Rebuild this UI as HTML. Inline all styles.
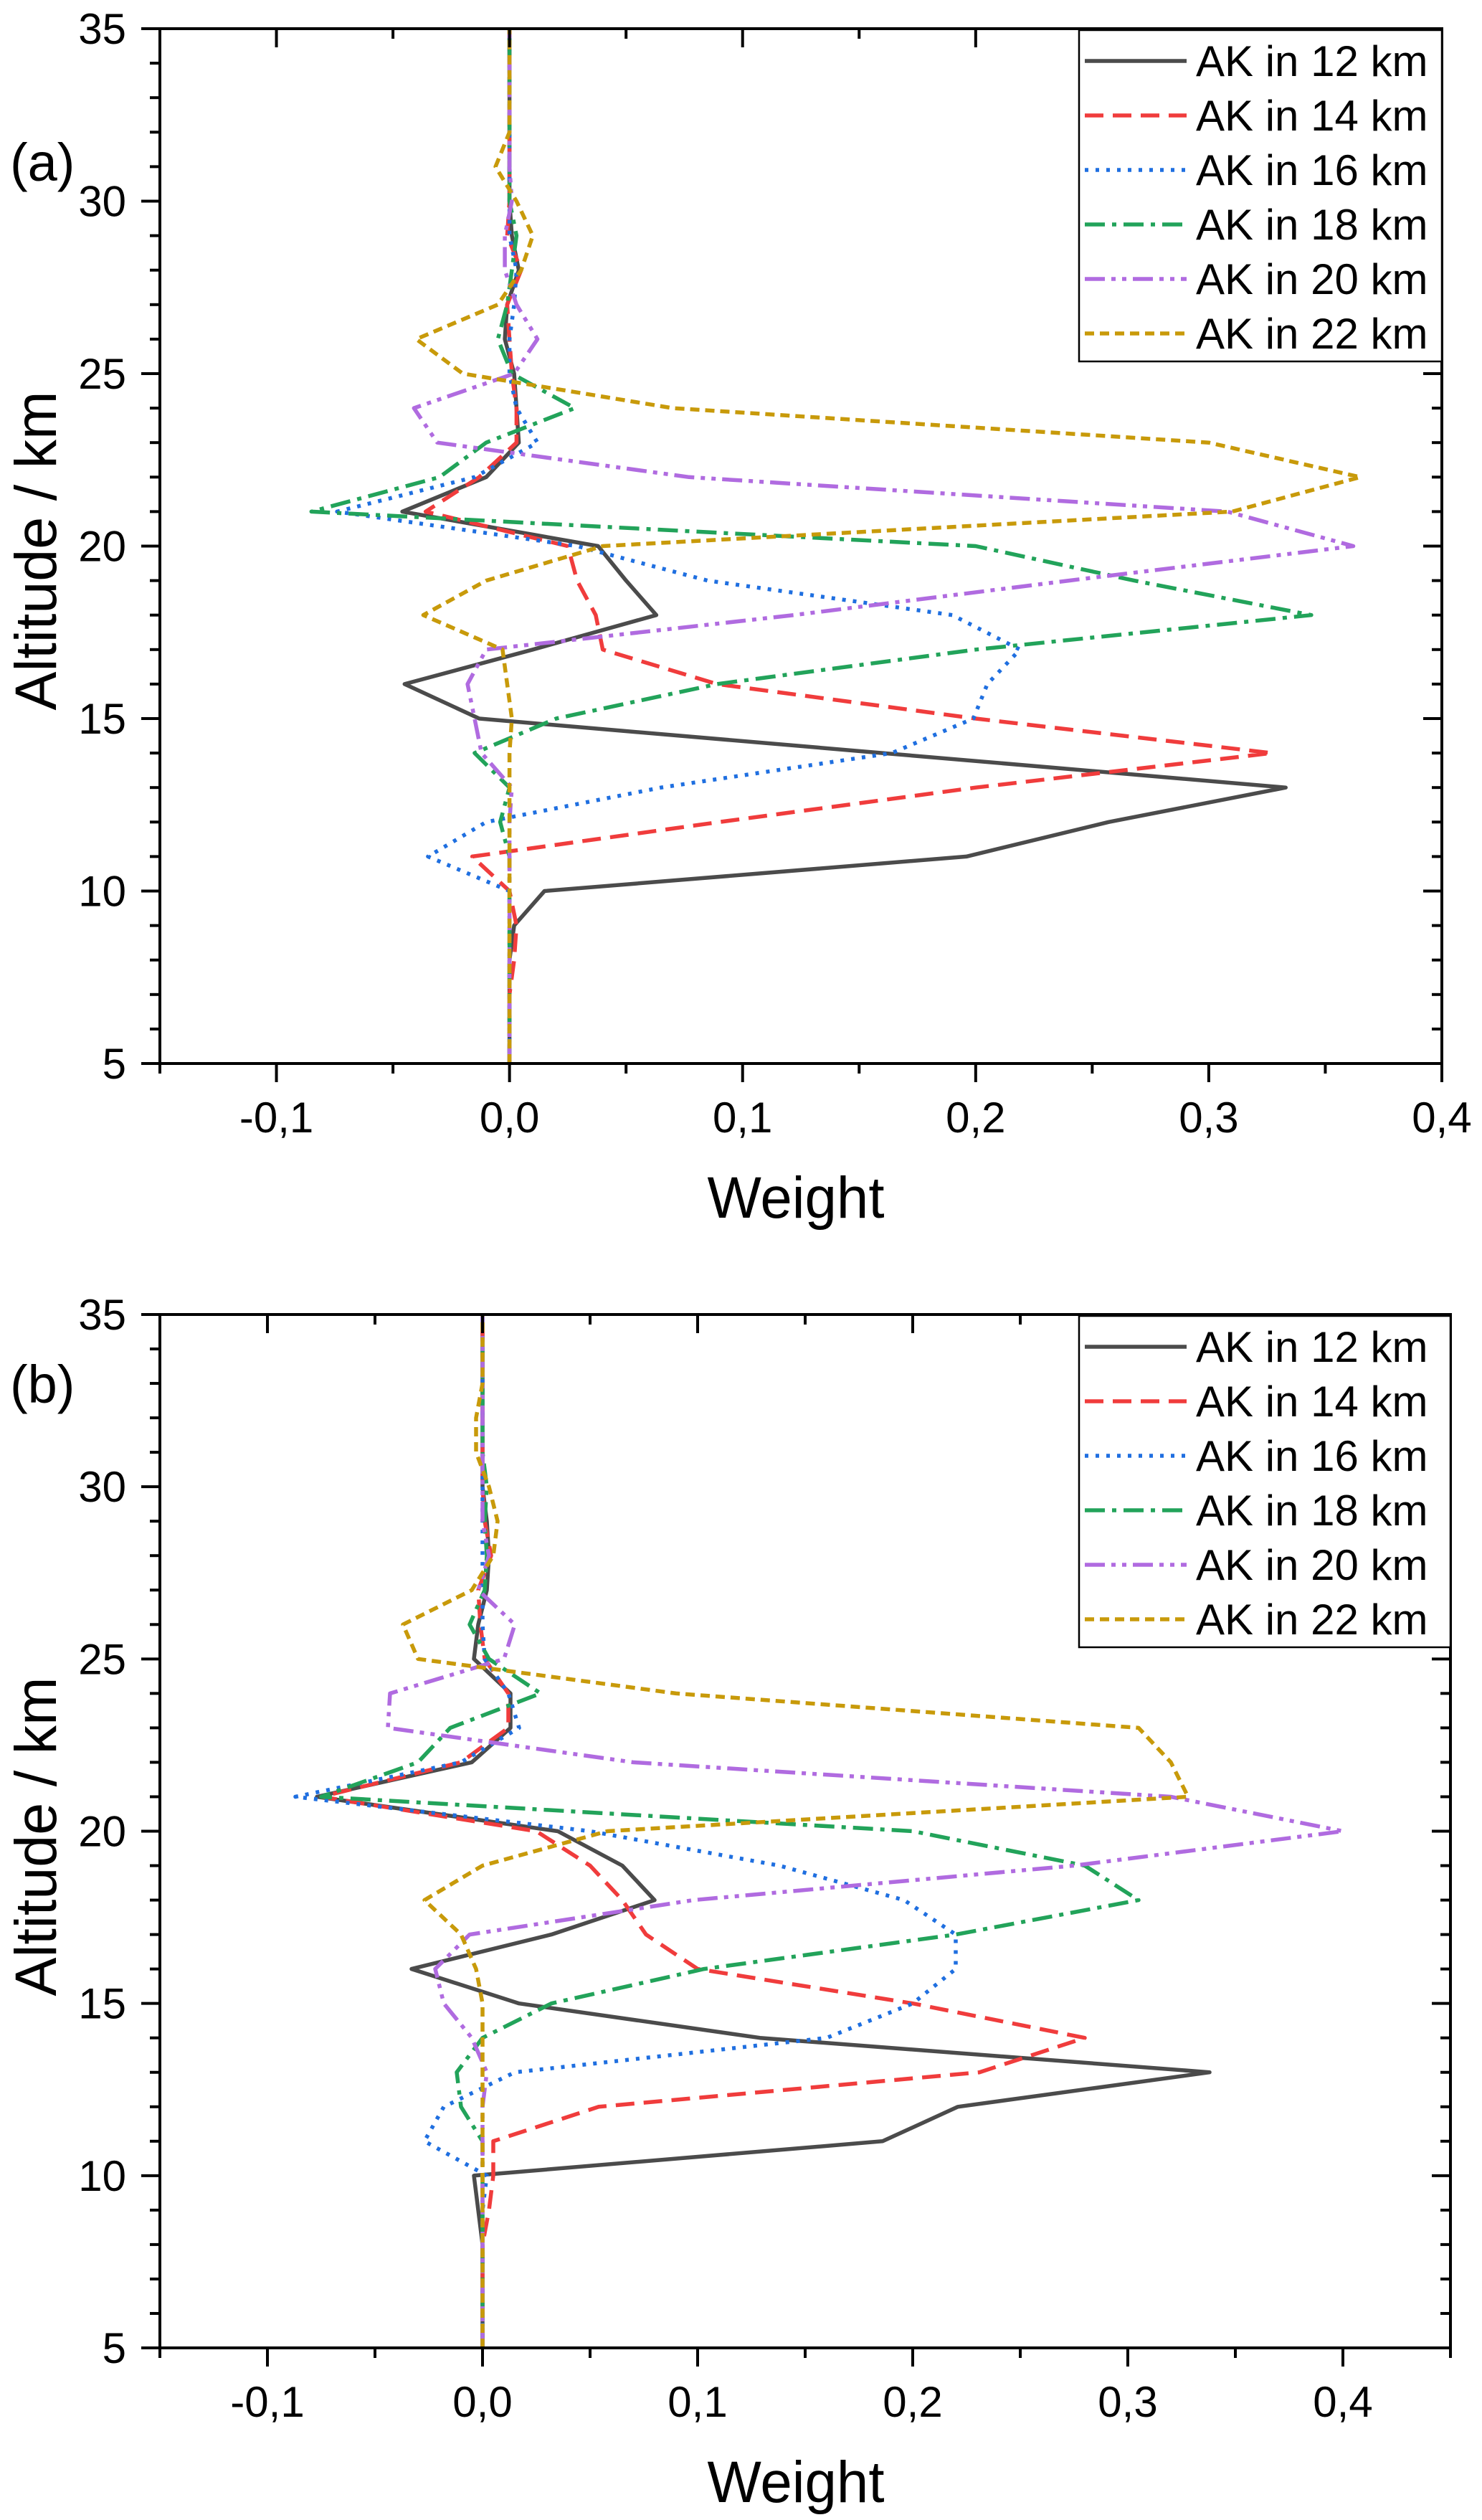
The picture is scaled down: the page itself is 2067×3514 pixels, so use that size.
<!DOCTYPE html>
<html><head><meta charset="utf-8">
<style>
html,body{margin:0;padding:0;background:#fff;}
svg{display:block;font-family:"Liberation Sans",Arial,sans-serif;}
</style></head>
<body>
<svg id="fig" width="2067" height="3514" viewBox="0 0 2067 3514" xmlns="http://www.w3.org/2000/svg"></svg>
<script>
const altitudes = [5,6,7,8,9,10,11,12,13,14,15,16,17,18,19,20,21,22,23,24,25,26,27,28,29,30,31,32,33,34,35];
const seriesNames = ["AK in 12 km","AK in 14 km","AK in 16 km","AK in 18 km","AK in 20 km","AK in 22 km"];
const xTicksA = [-0.1,0,0.1,0.2,0.3,0.4];
const xTickLabelsA = ["-0,1","0,0","0,1","0,2","0,3","0,4"];
const xTicksB = [-0.1,0,0.1,0.2,0.3,0.4];
const xTickLabelsB = ["-0,1","0,0","0,1","0,2","0,3","0,4"];
const yTicks = [5,10,15,20,25,30,35];
const yTickLabels = ["5","10","15","20","25","30","35"];
// Panel (a)
const a12 = [0,0,0,0,0.002,0.015,0.196,0.257,0.333,0.16,-0.013,-0.045,0.01,0.063,0.05,0.038,-0.046,-0.01,0.004,0.003,0.002,-0.002,-0.001,0.004,0.001,0,0,0,0,0,0];
const a14 = [0,0,0,0.002,0.003,0,-0.016,0.09,0.2,0.327,0.2,0.089,0.04,0.037,0.029,0.025,-0.036,-0.013,0.003,0.003,0.001,0,-0.001,0.005,-0.001,0,0,0,0,0,0];
const a16 = [0,0,0,0,0,0,-0.035,-0.01,0.065,0.164,0.199,0.205,0.219,0.19,0.085,0.029,-0.074,-0.015,0.012,0.003,0,0,0.002,0.003,0,0,0,0,0,0,0];
const a18 = [0,0,0,0,0,0,0,-0.004,0,-0.015,0.02,0.089,0.2,0.344,0.268,0.2,-0.085,-0.03,-0.01,0.028,0.001,-0.005,-0.001,0.001,0.003,0,0,0,0,0,0];
const a20 = [0,0,0,0,0,0,0,0,0.001,-0.012,-0.015,-0.018,-0.01,0.122,0.24,0.362,0.308,0.077,-0.031,-0.041,0.002,0.012,0.003,-0.002,-0.002,0.001,0,0,0,0,0];
const a22 = [0,0,0,0,0,0,0,0,0,0,0.001,-0.001,-0.003,-0.037,-0.01,0.04,0.31,0.365,0.3,0.07,-0.02,-0.04,-0.005,0.005,0.01,0.003,-0.006,0,0,0,0];
// Panel (b)
const b12 = [0,0,0,0,-0.002,-0.004,0.186,0.221,0.338,0.129,0.017,-0.033,0.032,0.08,0.065,0.035,-0.077,-0.005,0.013,0.013,-0.004,-0.002,0.002,0.003,0.002,0,0,0,0,0,0];
const b14 = [0,0,0,0,0.003,0.005,0.005,0.054,0.231,0.28,0.2,0.1,0.076,0.065,0.05,0.025,-0.075,-0.01,0.012,0.012,0.001,-0.001,-0.002,0.004,0.001,0,0,0,0,0,0];
const b16 = [0,0,0,0,0,0.002,-0.027,-0.018,0.015,0.16,0.2,0.22,0.22,0.196,0.138,0.05,-0.087,-0.01,0.017,0.012,0.001,0,0,0,0,0,0,0,0,0,0];
const b18 = [0,0,0,0,0,0,0,-0.01,-0.012,0,0.032,0.103,0.22,0.305,0.28,0.2,-0.075,-0.03,-0.015,0.027,0.003,-0.006,0.001,0.002,0.001,0.002,0,0,0,0,0];
const b20 = [0,0,0,0,0,0,0,0,0.002,-0.005,-0.018,-0.022,-0.006,0.098,0.275,0.4,0.32,0.07,-0.044,-0.043,0.01,0.015,-0.002,0.003,0,0,0,0,0,0,0];
const b22 = [0,0,0,0,0,0,0,0,0,0,0,-0.003,-0.01,-0.027,0,0.058,0.328,0.32,0.305,0.09,-0.03,-0.037,-0.005,0.005,0.007,0.003,-0.003,-0.003,0,0,0];

const colors = ["#4b4b4b","#f03c3c","#1f6fe0","#22a35a","#b06be0","#c89a0a"];
const dashes = ["none","26 13","5 10","28 10 6 10","28 9 6 9 6 9","13 8"];
const NS = "http://www.w3.org/2000/svg";
const svg = document.getElementById("fig");
function mk(tag, attrs, parent){const e=document.createElementNS(NS,tag);for(const k in attrs)e.setAttribute(k,attrs[k]);(parent||svg).appendChild(e);return e;}

function panel(cfg){
  const g = mk("g",{});
  
  
  const L=223,R=cfg.right,T=cfg.top,B=cfg.bottom;
  const xs = v => L + (v - cfg.xmin)/(cfg.xmax-cfg.xmin)*(R-L);
  const ys = v => B - (v - 5)/30*(B-T);
  cfg.series.forEach((arr,i)=>{
    const d = arr.map((v,j)=>(j?"L":"M")+xs(v).toFixed(1)+","+ys(altitudes[j]).toFixed(1)).join("");
    const p = mk("path",{d:d,fill:"none",stroke:colors[i],"stroke-width":5.5,"stroke-linejoin":"round"},g);
    if(dashes[i]!=="none") p.setAttribute("stroke-dasharray",dashes[i]);
    
    
  });
  const fr = mk("rect",{x:L,y:T,width:R-L,height:B-T,fill:"none",stroke:"#000","stroke-width":4},g);
  
  
  const n = Math.round((cfg.xmax-cfg.xmin)/0.05);
  for(let k=0;k<=n;k++){
    const v=cfg.xmin+k*0.05; const x=xs(v);
    const major = Math.abs(v*10-Math.round(v*10))<1e-6;
    const len = major?26:14;
    mk("line",{x1:x,y1:B,x2:x,y2:B+len,stroke:"#000","stroke-width":4},g);
    mk("line",{x1:x,y1:T,x2:x,y2:T+len,stroke:"#000","stroke-width":4},g);
  }
  cfg.xt.forEach((v,i)=>{
    const t=mk("text",{x:xs(v),y:B+96,"font-size":60,"text-anchor":"middle",fill:"#000"},g);
    t.textContent=cfg.xl[i];
    
    
  });
  for(let v=5; v<=35; v++){
    const y=ys(v); const len=(v%5===0)?26:14;
    mk("line",{x1:L,y1:y,x2:L-len,y2:y,stroke:"#000","stroke-width":4},g);
    mk("line",{x1:R,y1:y,x2:R-len,y2:y,stroke:"#000","stroke-width":4},g);
  }
  yTicks.forEach((v,i)=>{
    const t=mk("text",{x:176,y:ys(v)+21,"font-size":60,"text-anchor":"end",fill:"#000"},g);
    t.textContent=yTickLabels[i];
    
    
  });
  const xt=mk("text",{x:1110,y:B+215,"font-size":82,"text-anchor":"middle",fill:"#000",textLength:247,lengthAdjust:"spacingAndGlyphs"},g);
  xt.textContent="Weight";
  
  
  const cy=T+728;
  const yt=mk("text",{x:0,y:0,"font-size":82,"text-anchor":"middle",fill:"#000",textLength:445,lengthAdjust:"spacingAndGlyphs",transform:"translate(78,"+cy+") rotate(-90)"},g);
  yt.textContent="Altitude / km";
  
  
  const pl=mk("text",{x:14,y:cfg.labelY,"font-size":74,fill:"#000"},g);
  pl.textContent=cfg.label;
  
  
  const lg=mk("g",{},g);
  
  
  mk("rect",{x:1505,y:T+2,width:R-1505,height:462,fill:"#fff",stroke:"#000","stroke-width":2.5},lg);
  seriesNames.forEach((nm,i)=>{
    const y=T+45+i*76;
    const e=mk("g",{},lg);
    
    
    const ln=mk("line",{x1:1513,y1:y,x2:1655,y2:y,stroke:colors[i],"stroke-width":5.5},e);
    if(dashes[i]!=="none") ln.setAttribute("stroke-dasharray",dashes[i]);
    const t=mk("text",{x:1668,y:y+21,"font-size":60,fill:"#000"},e);
    t.textContent=nm;
  });
}
panel({name:"panel-a",top:40,bottom:1483,right:2011,xmin:-0.15,xmax:0.4,xt:xTicksA,xl:xTickLabelsA,label:"(a)",labelY:252,series:[a12,a14,a16,a18,a20,a22]});
panel({name:"panel-b",top:1833,bottom:3274,right:2023,xmin:-0.15,xmax:0.45,xt:xTicksB,xl:xTickLabelsB,label:"(b)",labelY:1956,series:[b12,b14,b16,b18,b20,b22]});
</script>
</body></html>
